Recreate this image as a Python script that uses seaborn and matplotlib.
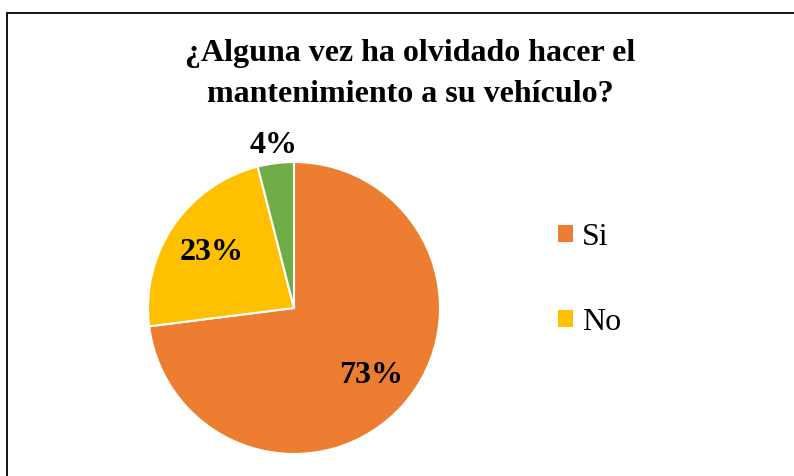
import numpy as np
import matplotlib
matplotlib.use("Agg")
import matplotlib.pyplot as plt
from matplotlib.patches import Rectangle, Patch
import seaborn as sns

# ---- data ----
categories = ["Si", "No", ""]
values = [73, 23, 4]
colors = ["#ED7D31", "#FFC000", "#70AD47"]
title = "¿Alguna vez ha olvidado hacer el\nmantenimiento a su vehículo?"

sns.set_style("white")
plt.rcParams["font.family"] = ["Liberation Serif", "DejaVu Serif"]
plt.rcParams["text.color"] = "black"

W, H = 794, 476
fig = plt.figure(figsize=(W / 100, H / 100), dpi=100)
fig.patch.set_facecolor("white")

# outer frame (cut off at right and bottom, as in reference)
fig.add_artist(Rectangle((7 / W, -0.05), 1.2, (H - 13) / H + 0.05,
                         transform=fig.transFigure, fill=False,
                         edgecolor="black", linewidth=1.3))

fig.text(410 / W, 1 - 74 / H, title, ha="center", va="center",
         fontsize=23, fontweight="bold", linespacing=1.55, color="black")

cx, cy, r = 294, 308, 146
ax = fig.add_axes([(cx - r) / W, (H - cy - r) / H, 2 * r / W, 2 * r / H])
wedges, _ = ax.pie(values, colors=colors, startangle=90, counterclock=False,
                   radius=1, wedgeprops=dict(edgecolor="white", linewidth=1.5))
ax.set_xlim(-1, 1)
ax.set_ylim(-1, 1)
ax.set_aspect("equal")
ax.axis("off")

dists = [0.7, 0.68, 1.12]
for w, v, d in zip(wedges, values, dists):
    ang = np.deg2rad((w.theta1 + w.theta2) / 2)
    ax.text(d * np.cos(ang), d * np.sin(ang), f"{v}%", ha="center", va="center",
            fontsize=23, fontweight="bold", clip_on=False, color="black")

handles = [Patch(facecolor=c, edgecolor="none") for c, lab in zip(colors, categories) if lab]
labels = [lab for lab in categories if lab]
leg = fig.legend(handles, labels, loc="center left", bbox_to_anchor=(558 / W, 1 - 280 / H),
                 frameon=False, fontsize=23, handlelength=0.47, handleheight=0.47,
                 handletextpad=0.28, labelspacing=1.75, borderpad=0, borderaxespad=0)
for t in leg.get_texts():
    t.set_color("black")

fig.savefig("out.png", dpi=100, facecolor="white")
